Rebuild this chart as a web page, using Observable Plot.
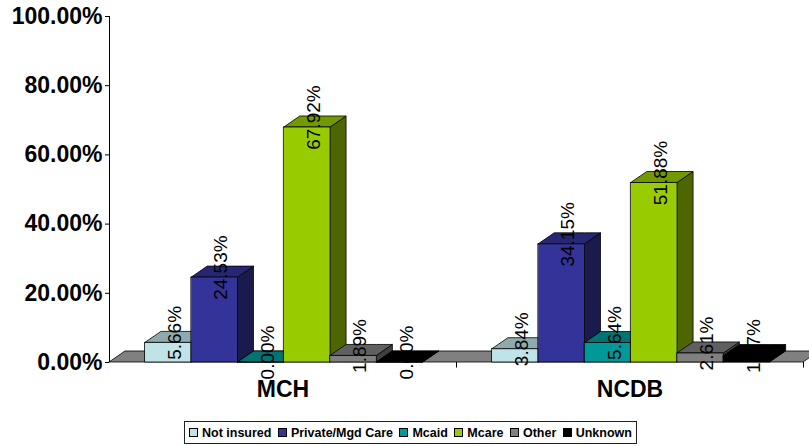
<!DOCTYPE html>
<html>
<head>
<meta charset="utf-8">
<script src="https://cdn.jsdelivr.net/npm/d3@7"></script>
<script src="https://cdn.jsdelivr.net/npm/@observablehq/plot@0.6"></script>
<style>
  body { margin: 0; background: #fff; font-family: "Liberation Sans", Arial, sans-serif; }
  #legend {
    margin: 5px 0 0 184px; border: 1px solid #222;
    display: flex; align-items: center; justify-content: space-between; padding: 0 4px 0 4px;
    font-weight: bold; font-size: 12.5px; color: #000;
    box-sizing: border-box; width: 453px; height: 23px;
  }
  #legend .item { display: flex; align-items: center; white-space: nowrap; }
  #legend .sw { width: 7px; height: 7px; border: 1px solid #000; margin-right: 4px; }
</style>
</head>
<body>
<div id="chart"></div>
<div id="legend"></div>
<script>
const categories = ["MCH", "NCDB"];
const series = ["Not insured", "Private/Mgd Care", "Mcaid", "Mcare", "Other", "Unknown"];
const mchValues = [5.66, 24.53, 0.00, 67.92, 1.89, 0.00];
const ncdbValues = [3.84, 34.15, 5.64, 51.88, 2.61, 1.87];
const seriesColors = ["#bfe3e7", "#333399", "#009999", "#99cc00", "#808080", "#000000"];
const tickValues = [0, 20, 40, 60, 80, 100];

const valuesByCategory = [mchValues, ncdbValues];

// layout (in x units: each category spans 1 unit)
const PAD = 0.1035, BW = 0.1334, DX = 0.0461, DY = 3.18;

function shade(c, k) {
  const r = d3.rgb(c);
  return d3.rgb(r.r * k, r.g * k, r.b * k).formatHex();
}

const polys = [];
const labels = [];
let pid = 0;
categories.forEach((cat, i) => {
  valuesByCategory[i].forEach((v, j) => {
    const xl = i + PAD + j * BW, xr = xl + BW;
    const c = seriesColors[j];
    let id = pid++;
    polys.push({id: "s" + id, x: xr, y1: 0, y2: v, fill: shade(c, 0.5)});
    polys.push({id: "s" + id, x: xr + DX, y1: DY, y2: v + DY, fill: shade(c, 0.5)});
    polys.push({id: "t" + id, x: xl, y1: v, y2: v, fill: shade(c, 0.75)});
    polys.push({id: "t" + id, x: xl + DX, y1: v, y2: v + DY, fill: shade(c, 0.75)});
    polys.push({id: "t" + id, x: xr, y1: v, y2: v + DY, fill: shade(c, 0.75)});
    polys.push({id: "t" + id, x: xr + DX, y1: v + DY, y2: v + DY, fill: shade(c, 0.75)});
    polys.push({id: "f" + id, x: xl, y1: 0, y2: v, fill: c});
    polys.push({id: "f" + id, x: xr, y1: 0, y2: v, fill: c});
    labels.push({x: xl + BW / 2 + DX * 0.4, y: v, text: v.toFixed(2) + "%"});
  });
});

const floor = [
  {x: 0, y1: 0, y2: 0},
  {x: DX, y1: 0, y2: DY},
  {x: categories.length, y1: 0, y2: DY},
  {x: categories.length + DX, y1: DY, y2: DY}
];

const chart = Plot.plot({
  width: 809,
  height: 416,
  marginLeft: 109,
  marginRight: 6,
  marginTop: 16,
  marginBottom: 54,
  style: {fontFamily: "'Liberation Sans', Arial, sans-serif", fontSize: "23px", fontWeight: "bold", color: "#000", background: "#fff"},
  x: {domain: [0, categories.length], axis: null},
  y: {domain: [0, 100], ticks: tickValues, tickFormat: d => d.toFixed(2) + "%", tickSize: 4, tickPadding: 3, label: null},
  color: {type: "identity"},
  marks: [
    Plot.areaY(floor, {x: "x", y1: "y1", y2: "y2", fill: "#808080", stroke: "#000", strokeWidth: 0.8}),
    Plot.areaY(polys, {x: "x", y1: "y1", y2: "y2", z: "id", fill: "fill", stroke: "#000", strokeWidth: 0.8}),
    Plot.ruleX([0], {stroke: "#000"}),
    Plot.ruleX([1, 2], {y1: 0, y2: -1.6, stroke: "#000"}),
    Plot.text(labels, {x: "x", y: "y", text: "text", rotate: -90, dy: -10, textAnchor: "middle", fontSize: 19, fontWeight: "normal", fill: "#000"}),
    Plot.text(categories, {x: (d, i) => i + 0.5, y: 0, text: d => d, dy: 27, fontSize: 23, fontWeight: "bold", fill: "#000"})
  ]
});
document.getElementById("chart").appendChild(chart);

const legend = document.getElementById("legend");
series.forEach((s, j) => {
  const item = document.createElement("div");
  item.className = "item";
  const sw = document.createElement("span");
  sw.className = "sw";
  sw.style.background = seriesColors[j];
  item.appendChild(sw);
  item.appendChild(document.createTextNode(s));
  legend.appendChild(item);
});
</script>
</body>
</html>
